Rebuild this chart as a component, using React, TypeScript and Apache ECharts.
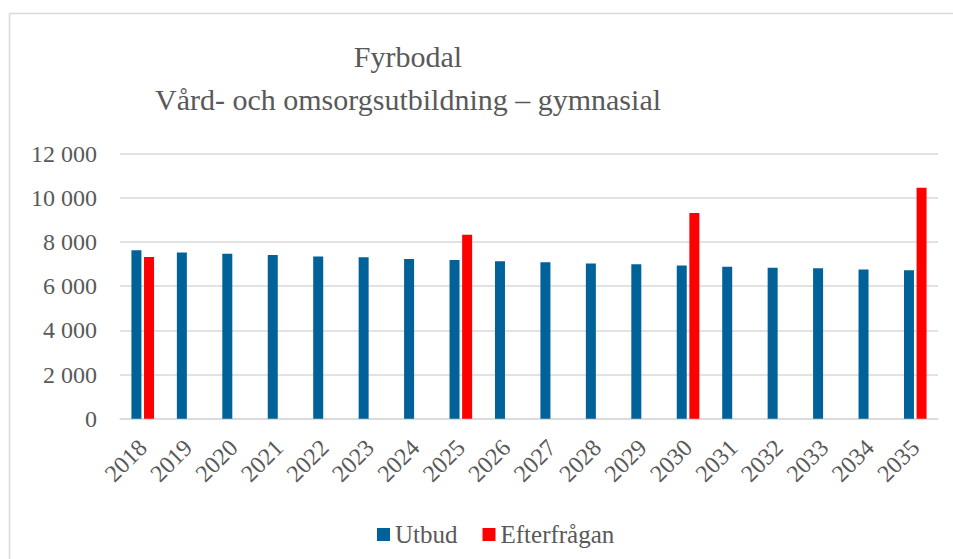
import React, { useEffect, useRef } from "react";
import * as echarts from "echarts";

const years = ["2018","2019","2020","2021","2022","2023","2024","2025","2026","2027","2028","2029","2030","2031","2032","2033","2034","2035"];
const utbud = [7630, 7530, 7470, 7410, 7350, 7310, 7230, 7190, 7130, 7080, 7030, 6990, 6940, 6880, 6840, 6810, 6760, 6720];
const efterfragan = [7320, null, null, null, null, null, null, 8330, null, null, null, null, 9310, null, null, null, null, 10460];
const titleLines = ["Fyrbodal", "Vård- och omsorgsutbildning – gymnasial"];
const seriesNames = ["Utbud", "Efterfrågan"];

const FONT = "'Liberation Serif', serif";
const TXT = "#595959";

function fmt(v: number) {
  return String(v).replace(/\B(?=(\d{3})+(?!\d))/g, " ");
}

export default function App() {
  const ref = useRef<HTMLDivElement>(null);
  useEffect(() => {
    document.documentElement.style.overflow = "hidden";
    document.body.style.margin = "0";
    document.body.style.overflow = "hidden";
    if (!ref.current) return;
    const chart = echarts.init(ref.current, null, { renderer: "svg" });
    chart.setOption({
      animation: false,
      backgroundColor: "#fff",
      textStyle: { fontFamily: FONT, color: TXT },
      graphic: [
        {
          type: "line",
          shape: { x1: 9.5, y1: 13.5, x2: 953, y2: 13.5 },
          style: { stroke: "#d9d9d9", lineWidth: 1.5 },
          silent: true,
        },
        {
          type: "line",
          shape: { x1: 9.5, y1: 13.5, x2: 9.5, y2: 559 },
          style: { stroke: "#d9d9d9", lineWidth: 1.5 },
          silent: true,
        },
      ],
      title: {
        text: titleLines.join("\n"),
        left: 403,
        top: 30,
        textAlign: "center",
        textStyle: { fontFamily: FONT, fontSize: 30, fontWeight: "normal", color: TXT, lineHeight: 43 },
      },
      legend: {
        data: seriesNames,
        left: 372,
        top: 517,
        itemWidth: 13,
        itemHeight: 13,
        itemGap: 25,
        icon: "rect",
        textStyle: { fontFamily: FONT, fontSize: 25, color: TXT },
      },
      grid: { left: 120, right: 15, top: 153.7, bottom: 140.3, containLabel: false },
      xAxis: {
        type: "category",
        data: years,
        axisLine: { show: true, lineStyle: { color: "#d9d9d9", width: 1.5 } },
        axisTick: { show: false },
        axisLabel: { rotate: 45, fontFamily: FONT, fontSize: 24, color: TXT, margin: 25, interval: 0 },
      },
      yAxis: {
        type: "value",
        min: 0,
        max: 12000,
        interval: 2000,
        axisLine: { show: false },
        axisTick: { show: false },
        splitLine: { lineStyle: { color: "#d9d9d9", width: 1.5 } },
        axisLabel: { fontFamily: FONT, fontSize: 24, color: TXT, margin: 23, formatter: (v: number) => fmt(v) },
      },
      series: [
        {
          name: seriesNames[0],
          type: "bar",
          data: utbud,
          barWidth: 10,
          barGap: "26%",
          itemStyle: { color: "#006299" },
        },
        {
          name: seriesNames[1],
          type: "bar",
          data: efterfragan,
          barWidth: 10,
          itemStyle: { color: "#ff0000" },
        },
      ],
    });
    return () => chart.dispose();
  }, []);
  return <div ref={ref} style={{ width: 953, height: 559 }} />;
}
